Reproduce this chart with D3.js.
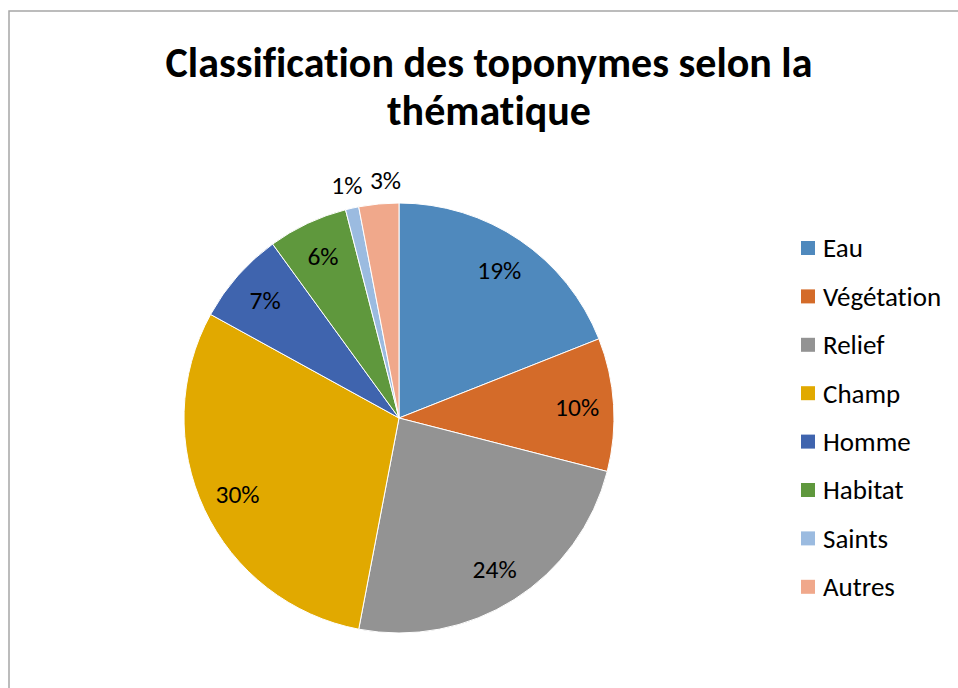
<!DOCTYPE html>
<html>
<head>
<meta charset="utf-8">
<script src="https://cdn.jsdelivr.net/npm/d3@7"></script>
<style>
  body { margin: 0; background: #fff; }
  svg { font-family: Carlito, Lato, "Open Sans", sans-serif; font-variant-ligatures: none; }
</style>
</head>
<body>
<div class="pieChart"></div>
<script>
// Chart data
const categories = ["Eau", "Végétation", "Relief", "Champ", "Homme", "Habitat", "Saints", "Autres"];
const values = [19, 10, 24, 30, 7, 6, 1, 3];
const colors = ["#4f89bd", "#d46b29", "#939393", "#e1a900", "#3f64ae", "#5f983d", "#9bbbe0", "#f0a88b"];
const titleLines = ["Classification des toponymes selon la", "thématique"];

const width = 958, height = 688;
const cx = 399, cy = 418, radius = 215;

const svg = d3.select(".pieChart")
    .append("svg")
    .attr("width", width)
    .attr("height", height);

// Chart border (only left and top edges visible in the frame)
svg.append("rect")
    .attr("x", 9)
    .attr("y", 11)
    .attr("width", width + 20)
    .attr("height", height + 20)
    .attr("fill", "#fff")
    .attr("stroke", "#a6a6a6")
    .attr("stroke-width", 1.5);

// Title
svg.append("text")
    .attr("text-anchor", "middle")
    .style("font-size", "42px")
    .style("font-weight", "bold")
    .selectAll("tspan")
    .data(titleLines)
    .join("tspan")
    .attr("x", 489)
    .attr("y", (d, i) => 77 + i * 48)
    .text(d => d);

const pie = d3.pie().sort(null).value(d => d);
const arcs = pie(values);

const arc = d3.arc().innerRadius(0).outerRadius(radius);
const labelArc = d3.arc().innerRadius(radius * 0.83).outerRadius(radius * 0.83);
const outerArc = d3.arc().innerRadius(radius + 24).outerRadius(radius + 24);

const g = svg.append("g")
    .attr("transform", `translate(${cx},${cy})`);

g.selectAll("path")
    .data(arcs)
    .join("path")
    .attr("d", arc)
    .attr("fill", (d, i) => colors[i])
    .attr("stroke", "#fff")
    .attr("stroke-width", 1);

// Percentage labels: the two smallest top slices go outside
const nudge = [0, 0, 0, 0, 0, 0, 0, 9];
g.selectAll(".pct")
    .data(arcs)
    .join("text")
    .attr("class", "pct")
    .attr("transform", (d, i) => {
        const p = values[i] < 3 || i === 7 ? outerArc.centroid(d) : labelArc.centroid(d);
        return `translate(${p[0] + nudge[i]},${p[1]})`;
    })
    .attr("text-anchor", "middle")
    .attr("dy", "0.35em")
    .style("font-size", "25.5px")
    .attr("fill", "#000")
    .text(d => d.value + "%");

// Legend
const legend = svg.append("g")
    .attr("transform", "translate(801, 248)");

legend.selectAll("rect")
    .data(categories)
    .join("rect")
    .attr("x", 0)
    .attr("y", (d, i) => i * 48.4 - 7)
    .attr("width", 14)
    .attr("height", 14)
    .attr("fill", (d, i) => colors[i]);

legend.selectAll("text")
    .data(categories)
    .join("text")
    .attr("x", 22)
    .attr("y", (d, i) => i * 48.4)
    .attr("dy", "0.35em")
    .style("font-size", "27px")
    .attr("fill", "#000")
    .text(d => d);
</script>
</body>
</html>
